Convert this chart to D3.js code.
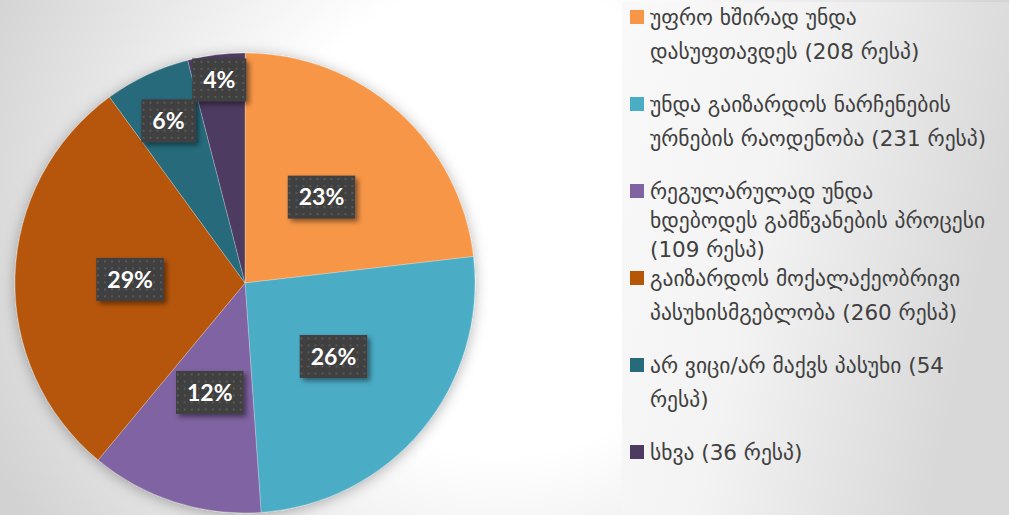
<!DOCTYPE html>
<meta charset="utf-8">
<style>
body { margin: 0; }
svg { display: block; }
</style>
<body>
<script src="https://cdn.jsdelivr.net/npm/d3@7"></script>
<script>

var width = 1009,
    height = 515;

// responses per answer, in the legend order
var labels = [
  "უფრო ხშირად უნდა\nდასუფთავდეს (208 რესპ)",
  "უნდა გაიზარდოს ნარჩენების\nურნების რაოდენობა (231 რესპ)",
  "რეგულარულად უნდა\nხდებოდეს გამწვანების პროცესი\n(109 რესპ)",
  "გაიზარდოს მოქალაქეობრივი\nპასუხისმგებლობა (260 რესპ)",
  "არ ვიცი/არ მაქვს პასუხი (54\nრესპ)",
  "სხვა (36 რესპ)"
];
var counts = [208, 231, 109, 260, 54, 36];
var colors = ["#f79646", "#4bacc6", "#8064a2", "#b65708", "#276a7c", "#4d3b62"];

var svg = d3.select("body").append("svg")
    .attr("width", width)
    .attr("height", height);

var defs = svg.append("defs");

var bg = defs.append("radialGradient")
    .attr("id", "bg")
    .attr("gradientUnits", "userSpaceOnUse")
    .attr("cx", 500).attr("cy", 220).attr("r", 560);
bg.append("stop").attr("offset", "0").attr("stop-color", "#ffffff");
bg.append("stop").attr("offset", "0.42").attr("stop-color", "#ffffff");
bg.append("stop").attr("offset", "1").attr("stop-color", "#d2d2d2");

var lg = defs.append("linearGradient")
    .attr("id", "legbg")
    .attr("x1", "0").attr("x2", "1").attr("y1", "0").attr("y2", "0.3");
lg.append("stop").attr("offset", "0").attr("stop-color", "#f9f9f9");
lg.append("stop").attr("offset", "0.45").attr("stop-color", "#f3f3f3");
lg.append("stop").attr("offset", "1").attr("stop-color", "#d8d8d8");

var pieShadow = defs.append("filter")
    .attr("id", "pieShadow")
    .attr("x", "-20%").attr("y", "-20%").attr("width", "140%").attr("height", "140%");
pieShadow.append("feDropShadow")
    .attr("dx", 0).attr("dy", 2).attr("stdDeviation", 7)
    .attr("flood-color", "#000").attr("flood-opacity", 0.3);

var boxShadow = defs.append("filter")
    .attr("id", "boxShadow")
    .attr("x", "-30%").attr("y", "-30%").attr("width", "160%").attr("height", "160%");
boxShadow.append("feDropShadow")
    .attr("dx", 3).attr("dy", 3).attr("stdDeviation", 2.5)
    .attr("flood-color", "#000").attr("flood-opacity", 0.45);

var dots = defs.append("pattern")
    .attr("id", "dots")
    .attr("patternUnits", "userSpaceOnUse")
    .attr("width", 7).attr("height", 7);
dots.append("rect").attr("width", 7).attr("height", 7).attr("fill", "#404040");
dots.append("rect").attr("x", 2).attr("y", 2).attr("width", 2).attr("height", 2).attr("fill", "#585858");

svg.append("rect")
    .attr("width", width)
    .attr("height", height)
    .attr("fill", "url(#bg)");

// pie
var cx = 245, cy = 283, radius = 230;
var total = d3.sum(counts);

var pie = d3.pie().sort(null).value(function(d) { return d; });
var arcs = pie(counts);

var arc = d3.arc().innerRadius(0).outerRadius(radius);

var g = svg.append("g").attr("transform", "translate(" + cx + "," + cy + ")");

g.append("g")
    .attr("filter", "url(#pieShadow)")
  .selectAll("path")
  .data(arcs)
  .join("path")
    .attr("d", arc)
    .attr("fill", function(d, i) { return colors[i]; })
    .attr("stroke", "rgba(255,255,255,0.35)")
    .attr("stroke-width", 0.7);

// label boxes, small slices pushed outward
function labelRadius(d) {
  var f = d.value / total;
  if (f < 0.05) return radius * 0.89;
  if (f < 0.1) return radius * 0.78;
  return radius * 0.5;
}

var lab = g.selectAll("g.lab")
  .data(arcs)
  .join("g")
    .attr("class", "lab")
    .attr("transform", function(d) {
      var a = (d.startAngle + d.endAngle) / 2, r = labelRadius(d);
      return "translate(" + (r * Math.sin(a)) + "," + (-r * Math.cos(a)) + ")";
    });

lab.append("rect")
    .attr("filter", "url(#boxShadow)")
    .attr("fill", "url(#dots)");

lab.append("text")
    .attr("text-anchor", "middle")
    .attr("dy", "0.36em")
    .attr("fill", "#ffffff")
    .style("font-family", "Lato, 'Open Sans', sans-serif")
    .style("font-weight", "bold")
    .style("font-size", "23px")
    .text(function(d) { return d3.format(".0%")(d.value / total); });

lab.each(function() {
  var t = d3.select(this).select("text").node(),
      w = t.getComputedTextLength() + 22,
      h = 43;
  d3.select(this).select("rect")
      .attr("x", -w / 2).attr("y", -h / 2)
      .attr("width", w).attr("height", h);
});

// legend
svg.append("rect")
    .attr("x", 622).attr("y", 2)
    .attr("width", width - 622).attr("height", height - 2)
    .attr("fill", "url(#legbg)");

var y = d3.scaleBand()
    .domain(d3.range(labels.length))
    .range([10, 10 + 87 * labels.length])
    .paddingInner(0);

var item = svg.selectAll("g.item")
  .data(labels)
  .join("g")
    .attr("class", "item")
    .attr("transform", function(d, i) { return "translate(630," + y(i) + ")"; });

item.append("rect")
    .attr("width", 14).attr("height", 14)
    .attr("fill", function(d, i) { return colors[i]; });

item.append("text")
    .attr("fill", "#404040")
    .style("font-family", "'DejaVu Sans', sans-serif")
    .style("font-size", "21.5px")
    .each(function(d) {
      var lines = d.split("\n"),
          gap = lines.length > 2 ? 29 : 34,
          t = d3.select(this);
      lines.forEach(function(line, j) {
        var ts = t.append("tspan")
            .attr("x", 20)
            .attr("y", 15 + gap * j)
            .text(line);
        var len = ts.node().getComputedTextLength();
        if (len > 352) ts.attr("textLength", 352).attr("lengthAdjust", "spacingAndGlyphs");
      });
    });

</script>
</body>
